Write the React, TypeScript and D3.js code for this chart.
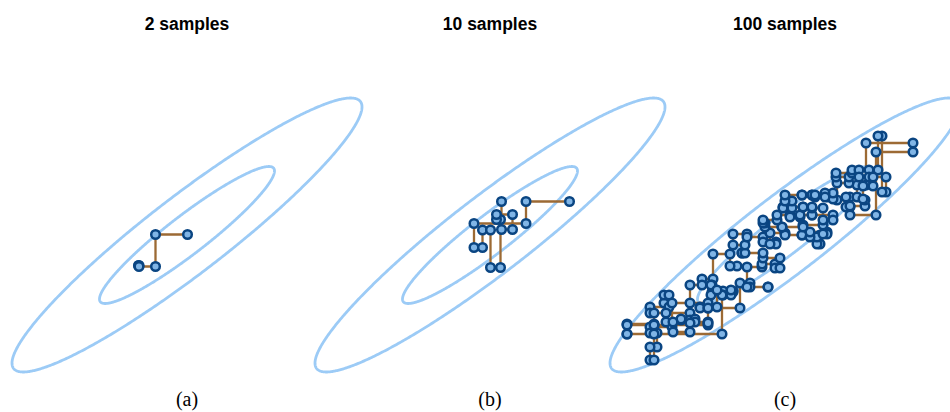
import React from "react";
import * as d3 from "d3";

// Gaussian model (data units)
const MEAN_X = 0;
const MEAN_Y = 0;
const SIGMA_X = 1.75;
const SIGMA_Y = 1.37;
const RHO = 0.935;
const CONTOUR_LEVELS = [1, 2];

const titles = ["2 samples", "10 samples", "100 samples"];
const captions = ["(a)", "(b)", "(c)"];

// Gibbs chains: x-updates and y-updates alternate
// points: (xs0,ys0),(xs1,ys0),(xs1,ys1),(xs2,ys1),...
const chainA_x = [-0.97, -0.96, -0.63, 0.01];
const chainA_y = [-0.61, -0.63, 0.01];

const chainB_x = [1.59, 0.72, -0.32, -0.15, 0.01, 0.21, 0.13, 0.45, 0.23];
const chainB_y = [0.67, 0.23, -0.25, 0.1, -0.65, 0.31, 0.41, 0.11, 0.67];

const chainC_x = [
  -0.96, -1.1, -1.44, -1.66, -1.46, -1.04, -1.24, -1.48, -1.9, -2.42,
  -2.32, -2.7, -1.9, -2.08, -1.8, -1.54, -2.62, -3.16, -1.26, -1.08,
  -1.36, -1.7, -1.54, -2.26, -2.7, -2.56, -2.7, -2.62, -3.16, -2.62,
  -2.38, -2.24, -1.9, -1.54, -0.9, -0.7, -0.34, -0.76, -0.46, -0.2,
  -0.1, -0.44, -0.86, -0.8, -1.04, -0.76, -0.44, -0.18, -0.3, 0.0,
  0.34, 0.7, 0.64, 0.5, 0.84, 0.76, 0.36, -0.06, -0.4, -0.44,
  -0.16, 0.1, 0.3, 0.54, 0.96, 0.76, 0.54, 0.36, -0.04, 0.14,
  0.0, 0.34, 0.54, 0.86, 1.3, 1.22, 1.44, 1.62, 2.56, 1.82,
  1.3, 1.6, 1.04, 1.28, 1.02, 1.34, 1.68, 2.02, 1.94, 1.86,
  1.48, 1.76, 1.56, 0.96, 0.8, 0.6,
];
const chainC_y = [
  -0.62, -0.38, -0.88, -1.0, -1.14, -1.12, -1.2, -1.0, -1.36, -1.2,
  -1.44, -1.56, -1.7, -1.68, -1.74, -1.8, -1.78, -1.98, -1.2, -1.1,
  -1.44, -1.46, -1.36, -1.84, -1.96, -2.24, -2.5, -1.98, -1.8, -1.56,
  -1.74, -1.94, -1.76, -1.46, -0.96, -1.04, -1.04, -0.64, -0.58, -0.66,
  -0.46, -0.36, -0.36, -0.2, 0.02, -0.04, -0.14, -0.18, 0.04, 0.0,
  0.0, -0.18, -0.04, 0.06, 0.02, 0.2, 0.16, 0.16, 0.24, 0.3,
  0.4, 0.36, 0.4, 0.4, 0.3, 0.54, 0.56, 0.56, 0.54, 0.68,
  0.8, 0.8, 0.8, 0.76, 0.56, 0.76, 1.0, 1.84, 1.66, 0.4,
  0.58, 0.7, 1.04, 1.16, 1.24, 1.3, 1.16, 0.86, 1.98, 1.3,
  1.16, 0.98, 0.72, 0.84, 0.76, 0.8,
];

const chainsX = [chainA_x, chainB_x, chainC_x];
const chainsY = [chainA_y, chainB_y, chainC_y];

const W = 950;
const H = 412;
const PANEL_CX = [187, 490, 785];
const PANEL_CY = 235;
const HALF_W = 175;
const HALF_H = 137;

const ELLIPSE_COLOR = "#9ccbf6";
const LINE_COLOR = "#9c6a34";
const DOT_FILL = "#80b5e6";
const DOT_STROKE = "#0a4582";

function buildChain(xs: number[], ys: number[]) {
  const pts: [number, number][] = [];
  let x = xs[0];
  let y = ys[0];
  pts.push([x, y]);
  let k = 1;
  while (true) {
    if (k % 2 === 1) {
      const i = (k + 1) / 2;
      if (i >= xs.length) break;
      x = xs[i];
    } else {
      const i = k / 2;
      if (i >= ys.length) break;
      y = ys[i];
    }
    pts.push([x, y]);
    k++;
  }
  return pts;
}

function ellipsePoints(level: number) {
  const s = Math.sqrt(1 - RHO * RHO);
  return d3.range(0, Math.PI * 2, 0.01).map((t) => [
    MEAN_X + level * SIGMA_X * Math.cos(t),
    MEAN_Y + level * SIGMA_Y * (RHO * Math.cos(t) + s * Math.sin(t)),
  ]) as [number, number][];
}

function Panel({ idx }: { idx: number }) {
  const cx = PANEL_CX[idx];
  const xScale = d3
    .scaleLinear()
    .domain([-HALF_W / 50, HALF_W / 50])
    .range([cx - HALF_W, cx + HALF_W]);
  const yScale = d3
    .scaleLinear()
    .domain([-HALF_H / 50, HALF_H / 50])
    .range([PANEL_CY + HALF_H, PANEL_CY - HALF_H]);

  const closed = d3
    .line<[number, number]>()
    .x((d) => xScale(d[0]))
    .y((d) => yScale(d[1]))
    .curve(d3.curveLinearClosed);
  const open = d3
    .line<[number, number]>()
    .x((d) => xScale(d[0]))
    .y((d) => yScale(d[1]));

  const pts = buildChain(chainsX[idx], chainsY[idx]);

  return (
    <g>
      <text
        x={cx}
        y={30}
        textAnchor="middle"
        fontFamily="'Liberation Sans', Arial, sans-serif"
        fontWeight="bold"
        fontSize={17.5}
        fill="#000"
      >
        {titles[idx]}
      </text>
      {CONTOUR_LEVELS.map((lv) => (
        <path
          key={lv}
          d={closed(ellipsePoints(lv)) || ""}
          fill="none"
          stroke={ELLIPSE_COLOR}
          strokeWidth={2.8}
        />
      ))}
      <path d={open(pts) || ""} fill="none" stroke={LINE_COLOR} strokeWidth={2.3} />
      {pts.map((p, i) => (
        <circle
          key={i}
          cx={xScale(p[0])}
          cy={yScale(p[1])}
          r={4.3}
          fill={DOT_FILL}
          stroke={DOT_STROKE}
          strokeWidth={2.5}
        />
      ))}
      <text
        x={cx}
        y={406}
        textAnchor="middle"
        fontFamily="'Liberation Serif', 'DejaVu Serif', serif"
        fontSize={20}
        fill="#000"
      >
        {captions[idx]}
      </text>
    </g>
  );
}

export default function App() {
  return (
    <svg
      width={W}
      height={H}
      style={{ position: "absolute", left: 0, top: 0, background: "#fff" }}
    >
      {[0, 1, 2].map((i) => (
        <Panel key={i} idx={i} />
      ))}
    </svg>
  );
}
